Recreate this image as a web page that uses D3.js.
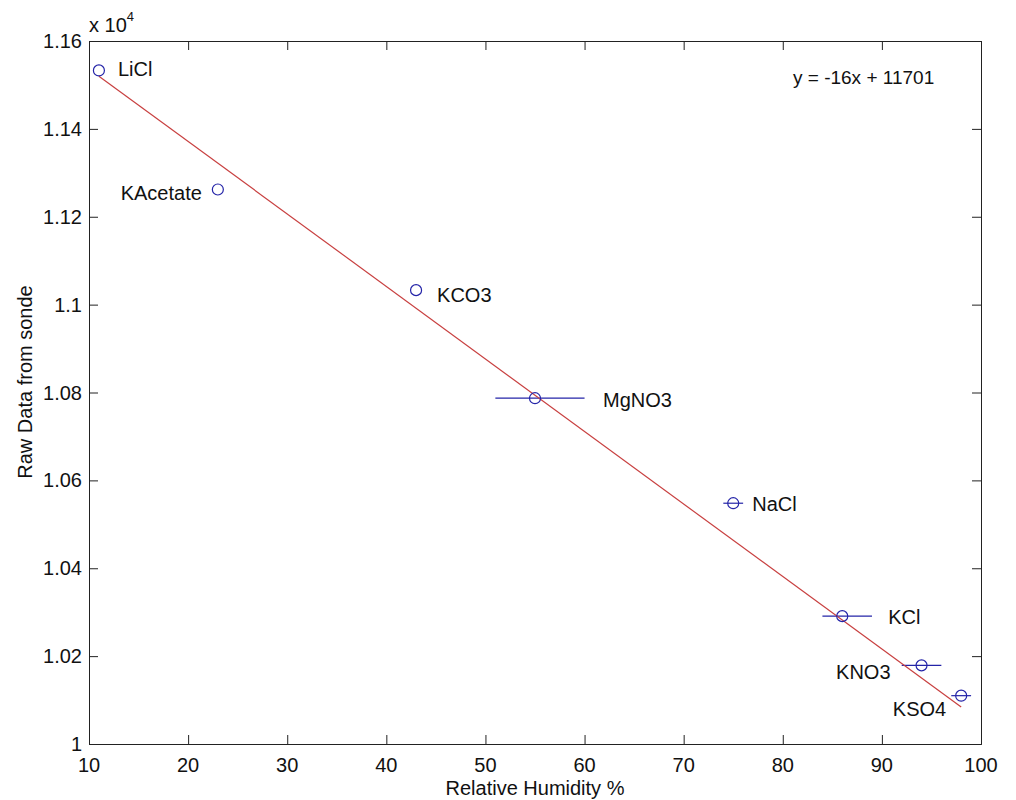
<!DOCTYPE html>
<html>
<head>
<meta charset="utf-8">
<script src="https://cdn.jsdelivr.net/npm/d3@7"></script>
<style>
  body { margin: 0; background: #fff; }
  text { font-family: "Liberation Sans", Arial, sans-serif; fill: #111; }
</style>
</head>
<body>
<svg id="chart" width="1016" height="800" viewBox="0 0 1016 800"></svg>
<script>
// salt names, humidity (%) and raw sonde readings
const salts = ["LiCl", "KAcetate", "KCO3", "MgNO3", "NaCl", "KCl", "KNO3", "KSO4"];
const humidity = [11, 23, 43, 55, 75, 86, 94, 98];
const rawData = [11533, 11262, 11033, 10787, 10548, 10291, 10179, 10110];
// horizontal error bar ends (humidity %)
const humLow = [11, 23, 43, 51, 74, 84, 92, 97];
const humHigh = [11, 23, 43, 60, 76, 89, 96, 99];

// fitted line ends
const fitX = [11, 98];
const fitY = [11520, 10084];
const fitLabel = "y = -16x + 11701";

const xTicks = [10, 20, 30, 40, 50, 60, 70, 80, 90, 100];
const yTicks = [10000, 10200, 10400, 10600, 10800, 11000, 11200, 11400, 11600];

// label placement next to each point: [dx, dy, anchor]
const labelPos = [
  [19, -1, "start"], [-16, 3, "end"], [21, 5, "start"], [68, 2, "start"],
  [19, 1, "start"], [46, 1, "start"], [-31, 7, "end"], [-15, 13, "end"]
];

let svg = d3.select("#chart");
let mLeft = 89, mRight = 981, mTop = 41, mBottom = 744;

let x = d3.scaleLinear().domain([10, 100]).range([mLeft, mRight]);
let y = d3.scaleLinear().domain([10000, 11600]).range([mBottom, mTop]);

const axisColor = "#222";
const blue = "#2424a8";
const red = "#c84040";

/* ----- Axes box with inward ticks ----- */
let axes = svg.append("g");

axes.append("g")
    .attr("transform", `translate(0,${mBottom})`)
    .call(d3.axisTop(x).tickValues(xTicks).tickSize(9).tickFormat(""));
axes.append("g")
    .attr("transform", `translate(0,${mTop})`)
    .call(d3.axisBottom(x).tickValues(xTicks).tickSize(9).tickFormat(""));
axes.append("g")
    .attr("transform", `translate(${mLeft},0)`)
    .call(d3.axisRight(y).tickValues(yTicks).tickSize(9).tickFormat(""));
axes.append("g")
    .attr("transform", `translate(${mRight},0)`)
    .call(d3.axisLeft(y).tickValues(yTicks).tickSize(9).tickFormat(""));

axes.selectAll("path, line").attr("stroke", axisColor).attr("stroke-width", 1);

// tick labels
svg.append("g").selectAll("text")
    .data(xTicks)
    .enter().append("text")
    .attr("x", d => x(d))
    .attr("y", mBottom + 28)
    .attr("text-anchor", "middle")
    .attr("font-size", 20)
    .text(d => d);

svg.append("g").selectAll("text")
    .data(yTicks)
    .enter().append("text")
    .attr("x", mLeft - 7)
    .attr("y", d => y(d))
    .attr("dy", "0.35em")
    .attr("text-anchor", "end")
    .attr("font-size", 20)
    .text(d => +(d / 10000).toFixed(2));

// exponent
let expo = svg.append("text")
    .attr("x", mLeft)
    .attr("y", 32)
    .attr("font-size", 20);
expo.append("tspan").text("x 10");
expo.append("tspan").attr("font-size", 13).attr("dy", -11).text("4");

// axis titles
svg.append("text")
    .attr("x", (mLeft + mRight) / 2)
    .attr("y", 795)
    .attr("text-anchor", "middle")
    .attr("font-size", 20)
    .text("Relative Humidity %");

svg.append("text")
    .attr("transform", `translate(32,382) rotate(-90)`)
    .attr("text-anchor", "middle")
    .attr("font-size", 20)
    .text("Raw Data from sonde");

/* ----- Error bars ----- */
let idx = d3.range(salts.length);

svg.append("g").selectAll("line")
    .data(idx)
    .enter().append("line")
    .attr("x1", i => x(humLow[i]))
    .attr("x2", i => x(humHigh[i]))
    .attr("y1", i => y(rawData[i]))
    .attr("y2", i => y(rawData[i]))
    .attr("stroke", blue)
    .attr("stroke-width", 1.2);

/* ----- Fit line ----- */
svg.append("path")
    .datum(d3.zip(fitX, fitY))
    .attr("d", d3.line().x(d => x(d[0])).y(d => y(d[1])))
    .attr("fill", "none")
    .attr("stroke", red)
    .attr("stroke-width", 1.2);

/* ----- Points ----- */
svg.append("g").selectAll("circle")
    .data(idx)
    .enter().append("circle")
    .attr("cx", i => x(humidity[i]))
    .attr("cy", i => y(rawData[i]))
    .attr("r", 5.5)
    .attr("fill", "none")
    .attr("stroke", blue)
    .attr("stroke-width", 1.2);

svg.append("g").selectAll("text")
    .data(idx)
    .enter().append("text")
    .attr("x", i => x(humidity[i]) + labelPos[i][0])
    .attr("y", i => y(rawData[i]) + labelPos[i][1])
    .attr("dy", "0.35em")
    .attr("text-anchor", i => labelPos[i][2])
    .attr("font-size", 20)
    .text(i => salts[i]);

// equation
svg.append("text")
    .attr("x", 793)
    .attr("y", 77)
    .attr("dy", "0.35em")
    .attr("font-size", 19)
    .text(fitLabel);
</script>
</body>
</html>
